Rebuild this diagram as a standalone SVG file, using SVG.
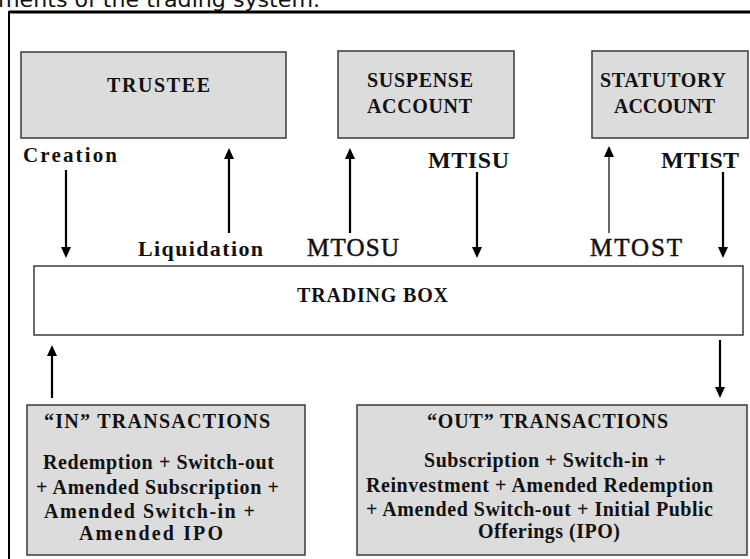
<svg xmlns="http://www.w3.org/2000/svg" width="750" height="559" viewBox="0 0 750 559">
<defs>
<marker id="ah" markerUnits="userSpaceOnUse" markerWidth="12" markerHeight="11" refX="2" refY="5" orient="auto">
<path d="M0,0 L11,5 L0,10 z" fill="#000"/>
</marker>
<style>
.box{fill:#dcdcdc;stroke:#3a3a3a;stroke-width:1.5}
.wbox{fill:#fff;stroke:#3a3a3a;stroke-width:1.5}
.t{font-family:"Liberation Serif","Times New Roman",serif;font-weight:bold;fill:#111}
.n{font-family:"Liberation Serif","Times New Roman",serif;font-weight:normal;fill:#111;stroke:#111;stroke-width:0.5}
.ar{stroke:#000;stroke-width:2.2;fill:none;marker-end:url(#ah)}
.thin{stroke-width:1.2}
</style>
</defs>
<rect width="750" height="559" fill="#fff"/>
<text x="-2" y="7" font-family="'DejaVu Sans',Verdana,sans-serif" font-size="22" fill="#111" textLength="322" lengthAdjust="spacingAndGlyphs">ments of the trading system.</text>
<g id="frame">
<line x1="9" y1="12" x2="750" y2="12" stroke="#000" stroke-width="3"/>
<line x1="9" y1="11" x2="9" y2="559" stroke="#000" stroke-width="2"/>
</g>
<g id="trustee">
<rect class="box" x="21" y="52" width="265" height="86"/>
<text class="t" x="107" y="92" font-size="20" textLength="103" lengthAdjust="spacing">TRUSTEE</text>
</g>
<g id="suspense">
<rect class="box" x="338" y="51" width="176" height="87"/>
<text class="t" x="367" y="87" font-size="20" textLength="106" lengthAdjust="spacing">SUSPENSE</text>
<text class="t" x="367" y="113" font-size="20" textLength="105" lengthAdjust="spacing">ACCOUNT</text>
</g>
<g id="statutory">
<rect class="box" x="592" y="51" width="156" height="87"/>
<text class="t" x="600" y="87" font-size="20" textLength="126" lengthAdjust="spacing">STATUTORY</text>
<text class="t" x="614" y="113" font-size="20" textLength="101" lengthAdjust="spacing">ACCOUNT</text>
</g>
<g id="trading">
<rect class="wbox" x="34" y="266" width="709" height="69"/>
<text class="t" x="297" y="302" font-size="20" textLength="151" lengthAdjust="spacing">TRADING BOX</text>
</g>
<g id="in">
<rect class="box" x="27" y="405" width="278" height="150"/>
<text class="t" x="44" y="428" font-size="20" textLength="226" lengthAdjust="spacing">“IN” TRANSACTIONS</text>
<text class="t" x="43" y="469" font-size="20" textLength="231" lengthAdjust="spacing">Redemption + Switch-out</text>
<text class="t" x="36" y="494" font-size="20" textLength="243" lengthAdjust="spacing">+ Amended Subscription +</text>
<text class="t" x="44" y="518" font-size="20" textLength="211" lengthAdjust="spacing">Amended Switch-in +</text>
<text class="t" x="79" y="540" font-size="20" textLength="144" lengthAdjust="spacing">Amended IPO</text>
</g>
<g id="out">
<rect class="box" x="357" y="405" width="390" height="150"/>
<text class="t" x="427" y="428" font-size="20" textLength="241" lengthAdjust="spacing">“OUT” TRANSACTIONS</text>
<text class="t" x="424" y="467" font-size="20" textLength="242" lengthAdjust="spacing">Subscription + Switch-in +</text>
<text class="t" x="366" y="492" font-size="20" textLength="347" lengthAdjust="spacing">Reinvestment + Amended Redemption</text>
<text class="t" x="366" y="516" font-size="20" textLength="347" lengthAdjust="spacing">+ Amended Switch-out + Initial Public</text>
<text class="t" x="478" y="538" font-size="20" textLength="142" lengthAdjust="spacing">Offerings (IPO)</text>
</g>
<g id="labels">
<text class="t" x="23" y="162" font-size="21" textLength="94" lengthAdjust="spacing">Creation</text>
<text class="t" x="138" y="256" font-size="22" textLength="125" lengthAdjust="spacing">Liquidation</text>
<text class="n" x="307" y="256" font-size="25" textLength="92" lengthAdjust="spacing">MTOSU</text>
<text class="t" x="428" y="168" font-size="24" textLength="81" lengthAdjust="spacing">MTISU</text>
<text class="n" x="590" y="256" font-size="25" textLength="92" lengthAdjust="spacing">MTOST</text>
<text class="t" x="661" y="168" font-size="24" textLength="78" lengthAdjust="spacing">MTIST</text>
</g>
<g id="connectors">
<line class="ar" x1="66" y1="170" x2="66" y2="249"/>
<line class="ar" x1="229" y1="233" x2="229" y2="157"/>
<line class="ar" x1="350" y1="233" x2="350" y2="157"/>
<line class="ar" x1="477" y1="172" x2="477" y2="249"/>
<line class="ar thin" x1="609" y1="233" x2="609" y2="155"/>
<line class="ar" x1="723" y1="172" x2="723" y2="249"/>
<line class="ar" x1="52" y1="398" x2="52" y2="354"/>
<line class="ar" x1="720" y1="340" x2="720" y2="389"/>
</g>
</svg>
